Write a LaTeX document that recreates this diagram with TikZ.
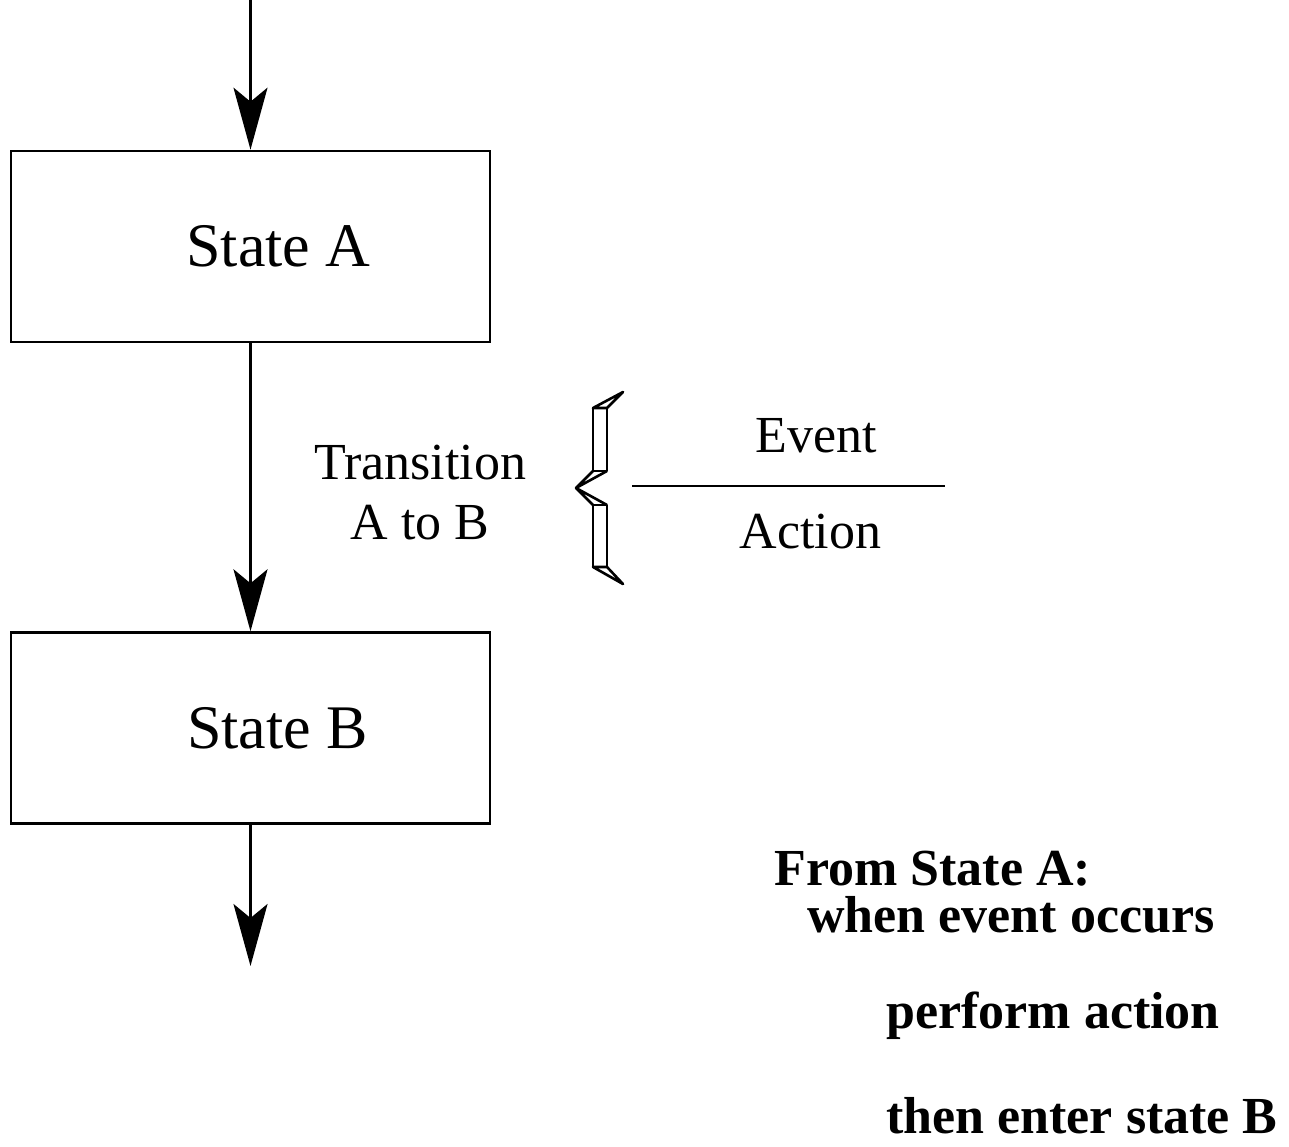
\documentclass[tikz,border=0pt]{standalone}
\usepackage{fontspec}
\setmainfont{Liberation Serif}
\usetikzlibrary{arrows.meta,positioning}

\begin{document}
\begin{tikzpicture}[x=1pt,y=-1pt,node distance={288pt},line width=2.6pt,
  >={Stealth[length=62pt,width=34pt,inset=14pt]},
  state/.style={draw, rectangle, minimum width=479pt, minimum height=191pt, inner sep=0pt, font=\fontsize{62}{70}\selectfont},
  lbl/.style={inner sep=0pt, font=\fontsize{52}{60}\selectfont},
  bld/.style={inner sep=0pt, anchor=base west, font=\fontsize{52}{58}\selectfont\bfseries}]
            \useasboundingbox (0,0) rectangle (1289,1147);

            \coordinate (in) at (250.5,0);
            \node[state] (A) at (250.5,246.5) {\hspace*{56pt}State A};
            \node[state] (B) [below=of A] {\hspace*{54pt}State B};
            \coordinate (out) at (250.5,966);

            \draw[->] (in) -- (A);
            \draw[->] (A) -- (B);
            \draw[->] (B) -- (out);

            \node[lbl, align=center] (tr) at (420,493) {Transition\\A to B};

            % brace
            \begin{scope}[line join=round]
            \draw (623,392) -- (593,408) -- (607,408) -- cycle;
            \draw (593,408) rectangle (607,471);
            \draw (593,471) -- (576,488) -- (607,471);
            \draw (593,505) -- (576,488) -- (607,505);
            \draw (593,505) rectangle (607,567);
            \draw (593,567) -- (607,567) -- (623,584) -- cycle;
            \end{scope}

            \node[lbl, anchor=base] (ev) at (816,452) {Event};
            \draw (632,486) -- (945,486);
            \node[lbl, anchor=base] (ac) at (810.5,548) {Action};

            \node[bld] (f1) at (773,885) {From State A:};
            \node[bld] (f2) at (806,932) {when event occurs};
            \node[bld] (f3) at (885,1028) {perform action};
            \node[bld] (f4) at (885,1133) {then enter state B};
          \end{tikzpicture}
\end{document}
